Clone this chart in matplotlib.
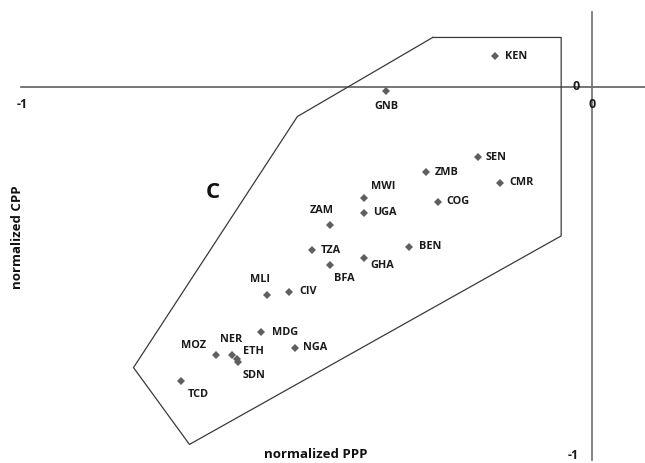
import matplotlib
matplotlib.use('Agg')
import matplotlib.pyplot as plt

plt.rcParams['font.family'] = ['Open Sans', 'DejaVu Sans']

# countries, normalized PPP (x) and normalized CPP (y)
countries = ['KEN', 'GNB', 'SEN', 'ZMB', 'CMR', 'MWI', 'COG', 'UGA', 'ZAM', 'TZA', 'BEN',
             'GHA', 'BFA', 'MLI', 'CIV', 'MDG', 'NGA', 'MOZ', 'NER', 'ETH', 'SDN', 'TCD']
ppp = [-0.170, -0.360, -0.200, -0.291, -0.161, -0.400, -0.270, -0.400, -0.459, -0.490, -0.320,
       -0.400, -0.459, -0.570, -0.530, -0.580, -0.520, -0.659, -0.630, -0.621, -0.620, -0.720]
cpp = [0.082, -0.011, -0.189, -0.229, -0.258, -0.298, -0.308, -0.338, -0.370, -0.438, -0.429,
       -0.459, -0.478, -0.558, -0.550, -0.658, -0.700, -0.719, -0.718, -0.730, -0.739, -0.790]

# outline of cluster C
hull_x = [-0.279, -0.054, -0.054, -0.705, -0.803, -0.516, -0.279]
hull_y = [0.132, 0.132, -0.400, -0.959, -0.753, -0.080, 0.132]

# label placement (pixel offsets from the marker, alignment)
lab_pos = {
    'KEN': (10, 0, 'left'), 'GNB': (0, -16, 'center'), 'SEN': (8, 0, 'left'),
    'ZMB': (9, 0, 'left'), 'CMR': (9, 0, 'left'), 'MWI': (20, 11, 'center'),
    'COG': (9, 0, 'left'), 'UGA': (10, 0, 'left'), 'ZAM': (-8, 14, 'center'),
    'TZA': (9, 0, 'left'), 'BEN': (10, 0, 'left'), 'GHA': (19, -8, 'center'),
    'BFA': (14, -14, 'center'), 'MLI': (-7, 15, 'center'), 'CIV': (10, 0, 'left'),
    'MDG': (11, 0, 'left'), 'NGA': (8, 0, 'left'), 'MOZ': (-22, 9, 'center'),
    'NER': (-1, 15, 'center'), 'ETH': (16, 8, 'center'), 'SDN': (16, -13, 'center'),
    'TCD': (17, -13, 'center'),
}

fig = plt.figure(figsize=(6.45, 4.63), dpi=100)
ax = fig.add_axes([0, 0, 1, 1])
ax.set_xlim(-1.0368, 0.0928)
ax.set_ylim(-1.0088, 0.2324)
ax.axis('off')

# axes crossing at the origin
ax.plot([-1.0, 0.0928], [0, 0], color='#5e5e5e', lw=1.2)
ax.plot([0, 0], [-1.0, 0.2], color='#6e6e6e', lw=1.2)

ax.plot(hull_x, hull_y, color='#3a3a3a', lw=0.9)

ax.plot(ppp, cpp, 'D', color='#5f5f5f', markersize=3.6, markeredgewidth=0)

for c, x, y in zip(countries, ppp, cpp):
    dx, dy, ha = lab_pos[c]
    ax.annotate(c, (x, y), xytext=(dx, dy), textcoords='offset pixels',
                ha=ha, va='center', fontsize=7.8, fontweight='bold', color='#1a1a1a')

# tick labels
tick_kw = dict(textcoords='offset pixels', fontsize=9, fontweight='bold', color='#1a1a1a')
ax.annotate('-1', (-1, 0), xytext=(1, -18), ha='center', va='center', **tick_kw)
ax.annotate('0', (0, 0), xytext=(0, -18), ha='center', va='center', **tick_kw)
ax.annotate('0', (0, 0), xytext=(-12, 0), ha='right', va='center', **tick_kw)
ax.annotate('-1', (0, -1), xytext=(-13, 4), ha='right', va='center', **tick_kw)

fig.text(213 / 645, 1 - 192 / 463, 'C', fontsize=16, fontweight='bold',
         ha='center', va='center', color='#111111')
fig.text(316 / 645, 1 - 455 / 463, 'normalized PPP', fontsize=9.5, fontweight='bold',
         ha='center', va='center', color='#111111')
fig.text(18 / 645, 1 - 237 / 463, 'normalized CPP', fontsize=9.5, fontweight='bold',
         ha='center', va='center', rotation=90, color='#111111')

fig.savefig('out.png', dpi=100)
